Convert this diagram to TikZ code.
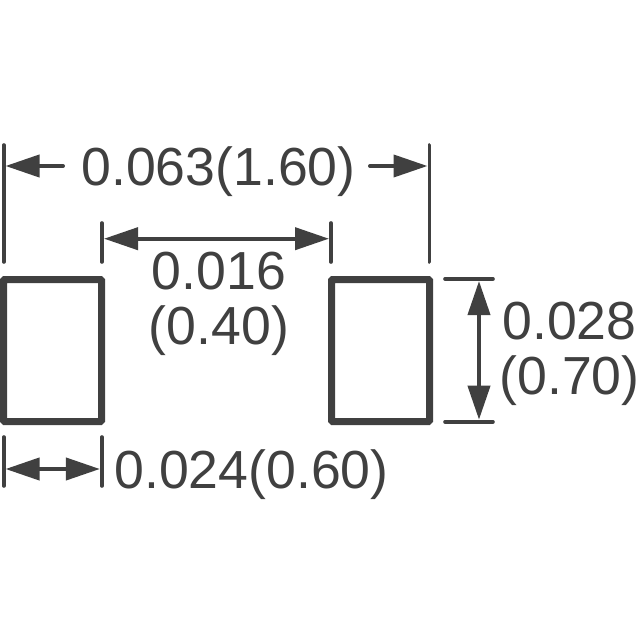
\documentclass[tikz,border=0pt]{standalone}
\usepackage{fontspec}
\setmainfont{Liberation Sans}
\usetikzlibrary{arrows.meta}
\definecolor{inkgray}{RGB}{64,64,64}
\tikzset{
  padbox/.style={draw=inkgray, line width=7pt, rounded corners=1pt, rectangle, inner sep=0pt, minimum width=98pt, minimum height=142pt},
  dimtext/.style={text=inkgray, font=\fontsize{53.6}{55}\selectfont, inner sep=0pt, align=center},
  dimline/.style={draw=inkgray, line width=3.6pt, line cap=round},
  dimshaft/.style={draw=inkgray, line width=4pt, line cap=round, >={Triangle[length=34pt,width=22pt]}}
}
\begin{document}
\begin{tikzpicture}[x=1pt,y=-1pt]
  \useasboundingbox (0,0) rectangle (640,640);
  \fill[white] (0,0) rectangle (640,640);
  % pads
  \node[padbox] (padL) at (52.5,350.5) {};
  \node[padbox] (padR) at (380.5,350.5) {};
  % extension lines
  \coordinate (t1a) at (3.7,145); \coordinate (t1b) at (3.7,262);
  \coordinate (t2a) at (429.3,145); \coordinate (t2b) at (429.3,262);
  \coordinate (m1a) at (101.7,223); \coordinate (m1b) at (101.7,262);
  \coordinate (m2a) at (331,223); \coordinate (m2b) at (331,262);
  \coordinate (r1a) at (445,279); \coordinate (r1b) at (493,279);
  \coordinate (r2a) at (445,421.7); \coordinate (r2b) at (493,421.7);
  \coordinate (b1a) at (3.7,437); \coordinate (b1b) at (3.7,486);
  \coordinate (b2a) at (101.7,437); \coordinate (b2b) at (101.7,486);
  \foreach \a/\b in {t1a/t1b,t2a/t2b,m1a/m1b,m2a/m2b,r1a/r1b,r2a/r2b,b1a/b1b,b2a/b2b}
    \draw[dimline] (\a) -- (\b);
  % labels
  \node[dimtext] (overall) at (218.5,171.5) {0.063(1.60)};
  \node[dimtext] (gap) at (219,304) {0.016\\(0.40)};
  \node[dimtext] (height) at (569.5,354) {0.028\\(0.70)};
  \node[dimtext] (width) at (251.5,475) {0.024(0.60)};
  % arrow ends
  \coordinate (o1) at (63,166); \coordinate (o2) at (370,166);
  \coordinate (o3) at (5.5,166); \coordinate (o4) at (427.5,166);
  \coordinate (g1) at (104,238.7); \coordinate (g2) at (329,238.7);
  \coordinate (h1) at (479,281); \coordinate (h2) at (479,419.7);
  \coordinate (w1) at (5.5,469); \coordinate (w2) at (99.9,469);
  \draw[dimshaft,->] (o1) -- (o3);
  \draw[dimshaft,->] (o2) -- (o4);
  \draw[dimshaft,<->] (g1) -- (g2);
  \draw[dimshaft,<->] (h1) -- (h2);
  \draw[dimshaft,<->] (w1) -- (w2);
\end{tikzpicture}
\end{document}
